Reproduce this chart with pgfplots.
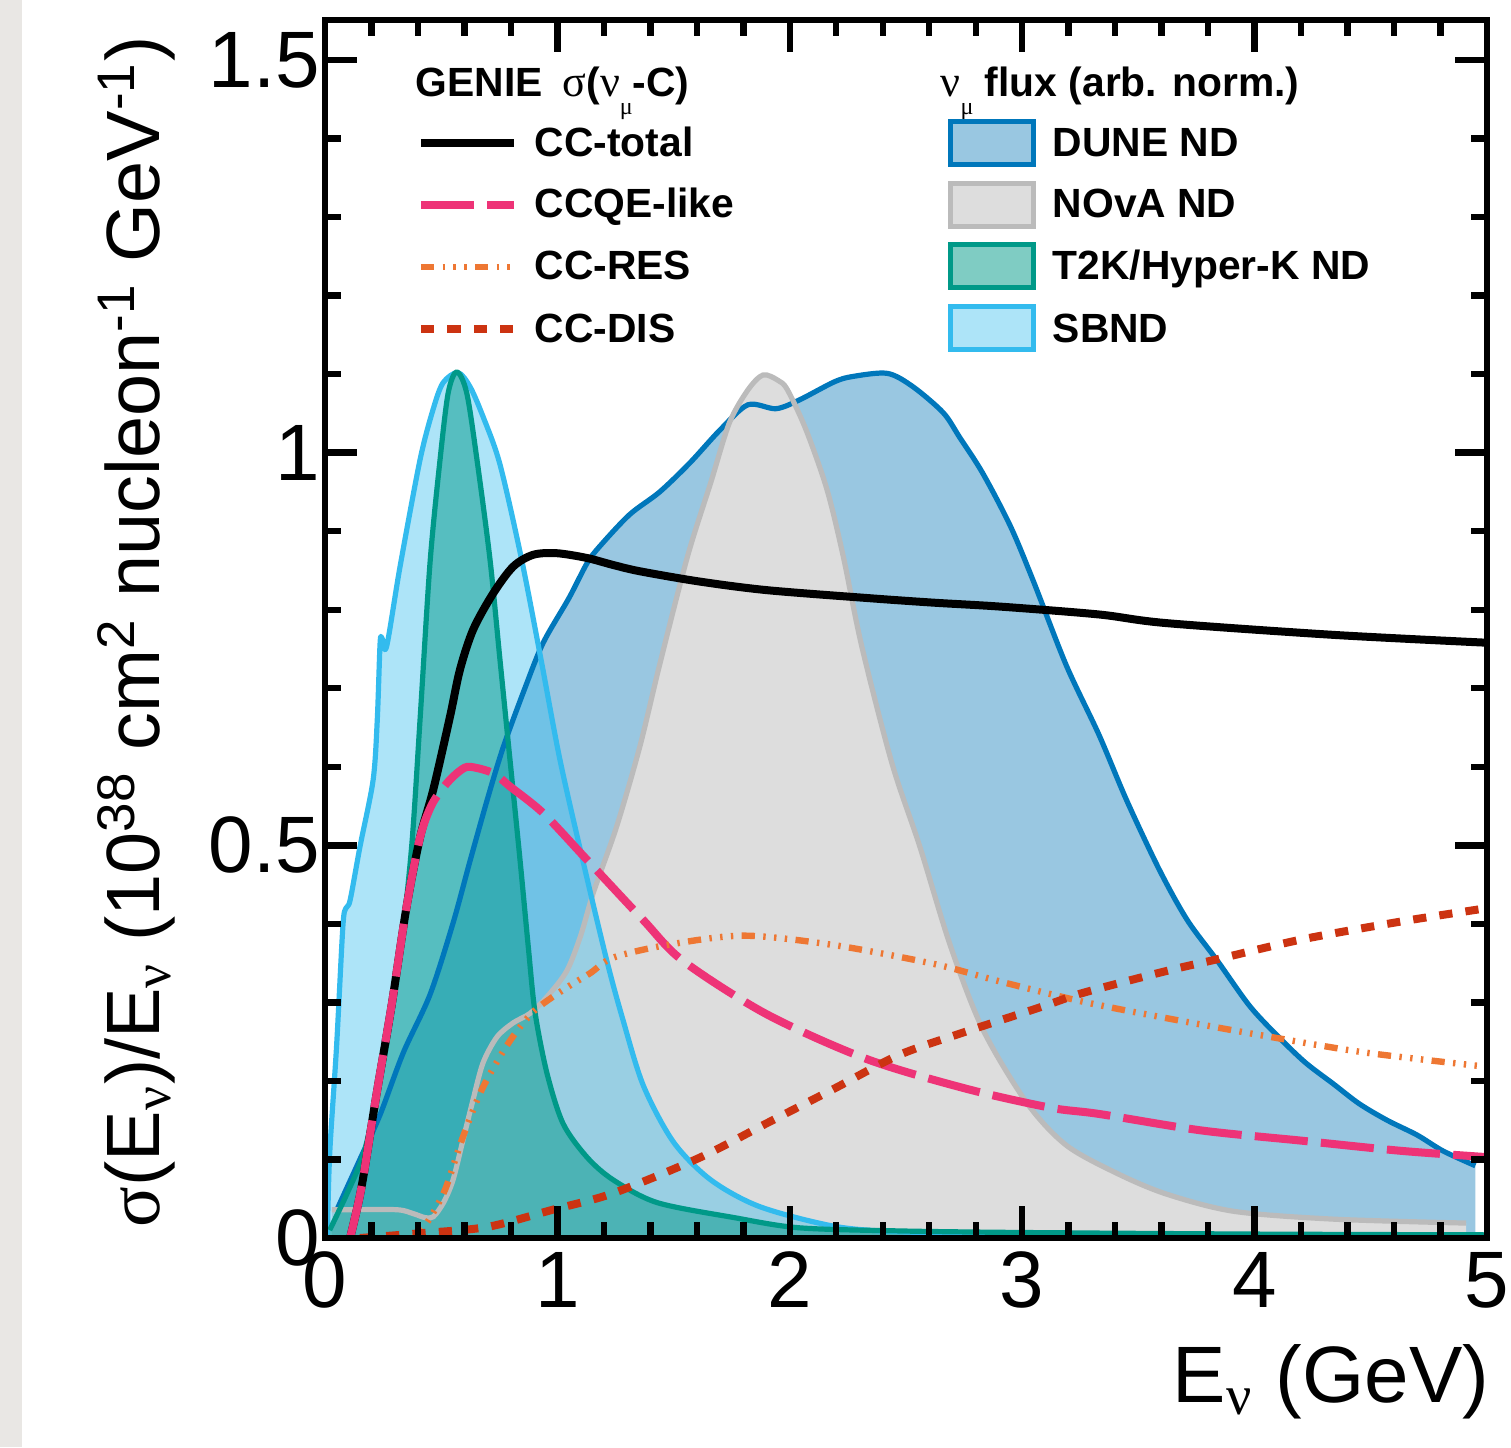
\documentclass[border=0pt]{standalone}
\usepackage{pgfplots}
\usepackage{pgfplotstable}
\pgfplotsset{compat=1.18}
\usepackage{fontspec}
\setmainfont{Liberation Sans}
\newfontfamily\grk{Liberation Serif}
\definecolor{duneL}{HTML}{0077BB}
\definecolor{duneF}{HTML}{99C7E1}
\definecolor{novaL}{HTML}{BBBBBB}
\definecolor{novaF}{HTML}{DDDDDD}
\definecolor{t2kL}{HTML}{009988}
\definecolor{sbndL}{HTML}{33BBEE}
\definecolor{qe}{HTML}{EE3377}
\definecolor{res}{HTML}{EE7733}
\definecolor{dis}{HTML}{CC3311}
\definecolor{strip}{HTML}{E9E7E4}
\tikzset{
  qedash/.style={dash pattern=on 13.3pt off 3.3pt},
  resdash/.style={dash pattern=on 3.3pt off 2.1pt on 0.6pt off 2.1pt on 0.6pt off 2.1pt on 0.6pt off 2.1pt},
  disdash/.style={dash pattern=on 3.3pt off 3.3pt},
}
\newcommand\legfont{\fontsize{10.2}{12}\selectfont\bfseries}
\newcommand\bigfont{\fontsize{20}{24}\selectfont}
\newcommand\ylfont{\fontsize{18.9}{22}\selectfont}
\newcommand\numu{{\grk\mdseries\fontsize{11}{12}\selectfont ν}\raisebox{-4.3pt}{\fontsize{6}{6}\selectfont\grk\mdseries μ}}

\pgfplotstableread{
x y
0.05 0.035
0.065 0.045
0.15 0.10
0.237 0.157
0.337 0.236
0.452 0.31
0.55 0.40
0.624 0.48
0.70 0.56
0.767 0.625
0.86 0.70
0.939 0.758
1.05 0.815
1.127 0.859
1.18 0.880
1.31 0.921
1.44 0.950
1.57 0.987
1.70 1.029
1.82 1.061
1.94 1.056
2.04 1.067
2.19 1.090
2.27 1.097
2.42 1.101
2.53 1.084
2.66 1.051
2.73 1.020
2.83 0.974
2.95 0.906
3.05 0.835
3.19 0.729
3.33 0.641
3.45 0.557
3.59 0.469
3.71 0.405
3.84 0.353
3.98 0.295
4.11 0.254
4.22 0.223
4.34 0.196
4.45 0.171
4.57 0.150
4.70 0.131
4.81 0.111
4.95 0.092
}\dune

\pgfplotstableread{
x y
0.03 0.036
0.108 0.036
0.31 0.036
0.38 0.031
0.43 0.026
0.466 0.027
0.51 0.045
0.551 0.074
0.594 0.125
0.637 0.176
0.68 0.223
0.74 0.256
0.81 0.274
0.882 0.286
0.955 0.307
1.04 0.340
1.10 0.385
1.155 0.44
1.255 0.524
1.355 0.626
1.44 0.730
1.56 0.868
1.66 0.962
1.74 1.038
1.82 1.080
1.885 1.099
1.95 1.092
1.99 1.080
2.07 1.029
2.16 0.953
2.23 0.868
2.31 0.753
2.44 0.604
2.56 0.498
2.69 0.373
2.83 0.266
3.02 0.172
3.19 0.118
3.41 0.082
3.62 0.056
3.91 0.034
4.34 0.024
4.91 0.019
}\nova

\pgfplotstableread{
x y
0.02 0.01
0.094 0.056
0.165 0.106
0.215 0.17
0.265 0.246
0.323 0.359
0.373 0.499
0.409 0.66
0.452 0.86
0.495 0.991
0.53 1.076
0.567 1.103
0.61 1.076
0.654 0.991
0.71 0.864
0.753 0.736
0.796 0.609
0.839 0.482
0.875 0.37
0.904 0.287
0.955 0.21
1.024 0.146
1.127 0.103
1.24 0.074
1.43 0.045
1.76 0.026
2.04 0.013
2.47 0.009
3.0 0.007
4.0 0.005
5.0 0.004
}\tk

\pgfplotstableread{
x y
0.01 0.0
0.02 0.106
0.05 0.245
0.077 0.397
0.09 0.42
0.108 0.43
0.151 0.499
0.207 0.583
0.225 0.66
0.237 0.757
0.245 0.764
0.265 0.753
0.323 0.855
0.409 0.991
0.465 1.055
0.508 1.089
0.572 1.102
0.624 1.084
0.68 1.046
0.753 0.985
0.846 0.864
0.93 0.736
1.011 0.609
1.11 0.48
1.212 0.354
1.28 0.28
1.37 0.194
1.50 0.122
1.66 0.074
1.87 0.04
2.19 0.015
2.47 0.008
3.0 0.005
4.0 0.003
5.0 0.003
}\sbnd

\pgfplotstableread{
x y
0.108 0.0
0.14 0.04
0.165 0.078
0.22 0.18
0.287 0.297
0.35 0.42
0.409 0.51
0.466 0.571
0.538 0.664
0.581 0.724
0.638 0.775
0.724 0.821
0.81 0.855
0.896 0.870
0.997 0.872
1.126 0.866
1.24 0.857
1.355 0.849
1.61 0.836
1.90 0.825
2.33 0.815
2.62 0.809
2.906 0.804
3.33 0.794
3.62 0.783
4.34 0.768
5.0 0.758
}\cctot

\pgfplotstableread{
x y
0.108 0.0
0.14 0.04
0.165 0.078
0.22 0.18
0.287 0.297
0.35 0.42
0.409 0.51
0.46 0.552
0.524 0.579
0.581 0.595
0.624 0.600
0.724 0.592
0.796 0.575
0.939 0.541
1.126 0.482
1.369 0.405
1.54 0.353
1.90 0.285
2.33 0.228
2.76 0.19
3.12 0.166
3.33 0.158
3.77 0.137
4.20 0.124
4.63 0.111
5.0 0.103
}\ccqe

\pgfplotstableread{
x y
0.38 0.0
0.438 0.019
0.516 0.061
0.589 0.125
0.675 0.189
0.789 0.248
0.896 0.288
1.025 0.316
1.14 0.337
1.24 0.357
1.47 0.373
1.80 0.385
2.19 0.373
2.62 0.349
2.90 0.327
3.26 0.301
3.62 0.280
4.05 0.257
4.48 0.236
5.0 0.218
}\ccres

\pgfplotstableread{
x y
0.15 0.0
0.409 0.006
0.697 0.014
0.98 0.036
1.24 0.057
1.61 0.102
1.90 0.146
2.19 0.19
2.47 0.233
2.76 0.263
3.09 0.295
3.26 0.312
3.62 0.340
3.84 0.355
4.20 0.380
4.63 0.403
5.0 0.42
}\ccdis

\begin{document}
\begin{tikzpicture}
\begin{scope}[x=0.25pt,y=-0.25pt,shift={(-81.25pt,309.5pt)}]
  \fill[strip] (0,0) rectangle (22,1447);
\end{scope}
\begin{axis}[
  at={(0,0)}, anchor=south west,
  width=290.5pt, height=304.5pt, scale only axis,
  xmin=0, xmax=5, ymin=0, ymax=1.551,
  xtick={0,1,2,3,4,5}, ytick={0,0.5,1,1.5},
  minor x tick num=4, minor y tick num=4,
  tick align=inside, tick pos=both,
  major tick length=8pt, minor tick length=4pt,
  every tick/.style={black, line width=1.6pt},
  axis line style={line width=1.6pt},
  tick label style={font=\bigfont},
  /pgf/number format/assume math mode=true,
  yticklabel style={inner xsep=1pt},
  axis on top,
]
\addplot[draw=none, fill=duneF, smooth] table {\dune} \closedcycle;
\addplot[draw=none, fill=novaF, smooth] table {\nova} \closedcycle;
\addplot[draw=none, fill=sbndL, fill opacity=0.4, smooth] table {\sbnd} \closedcycle;
\addplot[draw=none, fill=t2kL, fill opacity=0.5, smooth] table {\tk} \closedcycle;
\addplot[duneL, line width=1.3pt, smooth, line join=round] table {\dune};
\addplot[novaL, line width=1.3pt, smooth, line join=round] table {\nova};
\addplot[sbndL, line width=1.3pt, smooth, line join=round] table {\sbnd};
\addplot[t2kL, line width=1.3pt, smooth, line join=round] table {\tk};
\addplot[black, line width=2pt, smooth] table {\cctot};
\addplot[qe, line width=2pt, smooth, qedash] table {\ccqe};
\addplot[res, line width=1.6pt, smooth, resdash] table {\ccres};
\addplot[dis, line width=2pt, smooth, disdash] table {\ccdis};
\end{axis}
\begin{scope}[x=0.25pt,y=-0.25pt,shift={(-81.25pt,309.5pt)}]
  % left legend
  \node[anchor=base west, inner sep=0, font=\legfont] at (415,97) {GENIE\hspace{5pt}{\grk\mdseries\fontsize{11}{12}\selectfont σ}(\numu-C)};
  \draw[black, line width=2pt] (421,143) -- (514,143);
  \draw[qe, line width=2pt, qedash] (421,205) -- (514,205);
  \draw[res, line width=1.6pt, resdash] (421,267) -- (514,267);
  \draw[dis, line width=2pt, disdash] (421,329) -- (514,329);
  \node[anchor=base west, inner sep=0, font=\legfont] at (534,157) {CC-total};
  \node[anchor=base west, inner sep=0, font=\legfont] at (534,218) {CCQE-like};
  \node[anchor=base west, inner sep=0, font=\legfont] at (534,280) {CC-RES};
  \node[anchor=base west, inner sep=0, font=\legfont] at (534,343) {CC-DIS};
  % right legend
  \node[anchor=base west, inner sep=0, font=\legfont] at (940,97) {\numu\ flux (arb. norm.)};
  \filldraw[draw=duneL, fill=duneF, line width=1.25pt] (950,122) rectangle (1033,165);
  \filldraw[draw=novaL, fill=novaF, line width=1.25pt] (950,184) rectangle (1033,227);
  \fill[t2kL, fill opacity=0.5] (950,245) rectangle (1033,288);
  \draw[t2kL, line width=1.25pt] (950,245) rectangle (1033,288);
  \fill[sbndL, fill opacity=0.4] (950,307) rectangle (1033,350);
  \draw[sbndL, line width=1.25pt] (950,307) rectangle (1033,350);
  \node[anchor=base west, inner sep=0, font=\legfont] at (1052,157) {DUNE ND};
  \node[anchor=base west, inner sep=0, font=\legfont] at (1052,218) {NOvA ND};
  \node[anchor=base west, inner sep=0, font=\legfont] at (1052,280) {T2K/Hyper-K ND};
  \node[anchor=base west, inner sep=0, font=\legfont] at (1052,343) {SBND};
  % axis labels
  \node[rotate=90, anchor=base, inner sep=0, font=\ylfont] at (160,632)
    {{\grk σ}(E\textsubscript{\grk ν})/E\textsubscript{\grk ν} (10\textsuperscript{38} cm\textsuperscript{2} nucleon\textsuperscript{-1} GeV\textsuperscript{-1})};
  \node[anchor=base east, inner sep=0, font=\bigfont] at (1490,1402) {E\textsubscript{\grk ν} (GeV)};
\end{scope}
\pgfresetboundingbox
\path[use as bounding box] (-81.25pt,-52.25pt) rectangle (296.5pt,309.5pt);
\end{tikzpicture}
\end{document}
